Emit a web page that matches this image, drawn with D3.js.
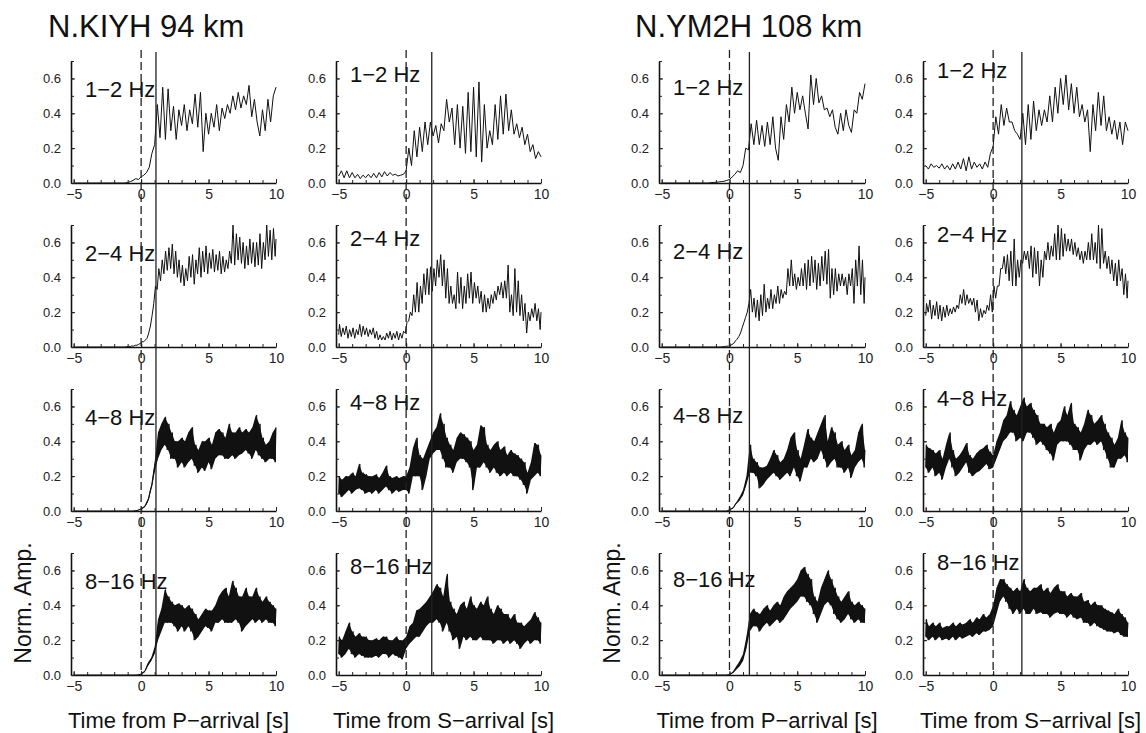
<!DOCTYPE html>
<html><head><meta charset="utf-8">
<script src="https://cdn.jsdelivr.net/npm/d3@7"></script>
<style>
body{margin:0;background:#fff;}
svg{display:block;font-family:"Liberation Sans",Arial,Helvetica,sans-serif;}
</style></head>
<body><svg id="chart" width="1146" height="733"></svg>
<script>
// ---------------- DATA ----------------
const stations = ["N.KIYH 94 km", "N.YM2H 108 km"];
const phaseTitles = ["Time from P\u2212arrival [s]", "Time from S\u2212arrival [s]"];
const bands = ["1\u22122 Hz", "2\u22124 Hz", "4\u22128 Hz", "8\u221216 Hz"];
const xTickLabels = [-5, 0, 5, 10];
const yTickLabels = [0, 0.2, 0.4, 0.6];
// solid marker time in each column (dashed marker at 0)
const markerTimes = [1.1, 1.9, 1.47, 2.13];

// 1-2 Hz traces, samples every 0.2 s from -5 to 10 s
const kiyhP_1_2 = [0,0,0,0,0,0,0,0,0,0,0,0,0,0,0,0,0,0,0,0,
 0.003,0.008,0.015,0.025,0.02,0.035,0.045,0.06,0.09,0.17,0.22,0.45,0.26,0.55,0.25,0.54,0.3,0.44,0.25,0.42,0.33,
 0.45,0.3,0.42,0.34,0.51,0.32,0.52,0.18,0.4,0.28,0.4,0.32,0.45,0.3,0.43,0.37,0.45,0.4,0.5,0.42,
 0.52,0.43,0.5,0.45,0.56,0.38,0.48,0.35,0.27,0.42,0.3,0.48,0.35,0.5,0.55];
const kiyhS_1_2 = [0.04,0.07,0.03,0.07,0.03,0.06,0.03,0.05,0.025,0.045,0.03,0.05,0.03,0.055,0.03,0.06,0.035,0.065,0.04,0.06,0.045,0.05,0.04,0.045,0.05,
 0.07,0.2,0.1,0.3,0.15,0.32,0.18,0.35,0.22,0.35,0.27,0.33,0.23,0.34,0.3,0.48,0.35,0.43,0.22,0.45,0.2,
 0.44,0.17,0.52,0.18,0.55,0.15,0.58,0.12,0.45,0.2,0.3,0.22,0.45,0.25,0.5,0.28,0.51,0.3,0.42,0.28,
 0.34,0.26,0.32,0.22,0.28,0.18,0.22,0.14,0.18,0.15];
const ym2hP_1_2 = [0,0,0,0,0,0,0,0,0,0,0,0,0,0,0,0,0,0,
 0.002,0.003,0.004,0.006,0.008,0.01,0.015,0.02,0.035,0.05,0.07,0.06,0.1,0.2,0.19,0.34,0.22,0.36,0.22,0.33,0.21,0.35,0.22,0.38,0.2,0.13,0.38,0.25,
 0.45,0.35,0.55,0.4,0.52,0.42,0.5,0.4,0.31,0.62,0.45,0.6,0.46,0.5,0.42,0.43,0.38,0.42,0.32,0.28,
 0.4,0.3,0.42,0.33,0.29,0.42,0.4,0.52,0.48,0.57];
const ym2hS_1_2 = [0.1,0.08,0.11,0.09,0.1,0.085,0.11,0.08,0.1,0.075,0.11,0.08,0.12,0.08,0.14,0.07,0.15,0.08,0.12,0.09,0.11,0.08,0.12,0.09,0.17,
 0.21,0.38,0.28,0.45,0.33,0.43,0.35,0.35,0.3,0.28,0.25,0.4,0.22,0.45,0.25,0.47,0.3,0.42,0.33,0.42,0.35,
 0.5,0.35,0.55,0.4,0.6,0.45,0.62,0.42,0.57,0.4,0.55,0.38,0.45,0.35,0.42,0.18,0.45,0.3,0.52,0.33,
 0.5,0.3,0.38,0.28,0.36,0.25,0.35,0.22,0.35,0.3];

// 2-16 Hz traces: min / max of each 0.25 s bin from -5 to 10 s
const kiyhP_2_4_lo = [0,0,0,0,0,0,0,0,0,0,0,0,0,0,0,0,0.002,0.003,
 0.005,0.01,0.02,0.03,0.05,0.12,0.25,0.33,0.38,0.42,0.44,0.45,0.42,0.4,0.37,0.35,0.38,0.4,0.36,0.42,0.4,0.43,0.42,0.45,0.43,0.44,0.42,0.43,0.45,0.48,0.47,0.5,0.48,0.45,0.47,0.48,0.46,0.47,0.45,0.5,0.52,0.5,0.52];
const kiyhP_2_4_hi = [0,0,0,0,0,0,0,0,0,0,0,0,0,0,0,0,0.003,0.006,
 0.01,0.015,0.03,0.04,0.08,0.18,0.35,0.45,0.5,0.55,0.57,0.59,0.55,0.5,0.47,0.45,0.52,0.53,0.5,0.57,0.55,0.58,0.54,0.56,0.53,0.55,0.52,0.5,0.55,0.7,0.65,0.63,0.6,0.58,0.62,0.6,0.6,0.65,0.6,0.7,0.67,0.68,0.62];
const kiyhS_2_4_lo = [0.07,0.06,0.07,0.05,0.06,0.05,0.07,0.06,0.07,0.06,0.07,0.05,0.04,0.04,0.04,0.05,0.04,0.05,0.04,0.05,
 0.08,0.15,0.18,0.2,0.2,0.25,0.3,0.3,0.32,0.35,0.4,0.35,0.28,0.25,0.25,0.22,0.25,0.22,0.25,0.28,0.25,0.28,0.25,0.2,0.2,0.22,0.25,0.27,0.3,0.28,0.28,0.2,0.18,0.2,0.18,0.15,0.08,0.15,0.17,0.15,0.1];
const kiyhS_2_4_hi = [0.13,0.11,0.12,0.1,0.11,0.1,0.13,0.12,0.11,0.1,0.11,0.09,0.07,0.06,0.08,0.09,0.08,0.09,0.08,0.09,
 0.14,0.2,0.3,0.37,0.35,0.42,0.45,0.46,0.45,0.5,0.53,0.5,0.45,0.35,0.3,0.43,0.4,0.35,0.42,0.43,0.37,0.35,0.32,0.3,0.28,0.3,0.32,0.35,0.37,0.38,0.47,0.3,0.45,0.38,0.3,0.25,0.2,0.22,0.25,0.22,0.2];
const ym2hP_2_4_lo = [0,0,0,0,0,0,0,0,0,0,0,0,0,0,0,0,0,0,0.001,0.003,
 0.005,0.015,0.035,0.06,0.11,0.17,0.25,0.2,0.17,0.15,0.18,0.2,0.22,0.22,0.25,0.25,0.28,0.3,0.35,0.35,0.33,0.35,0.35,0.33,0.35,0.37,0.33,0.35,0.38,0.36,0.28,0.3,0.32,0.35,0.35,0.3,0.35,0.25,0.35,0.3,0.25];
const ym2hP_2_4_hi = [0,0,0,0,0,0,0,0,0,0,0,0,0,0,0,0,0,0,0.002,0.005,
 0.008,0.02,0.045,0.08,0.14,0.2,0.33,0.28,0.27,0.3,0.36,0.28,0.33,0.3,0.35,0.33,0.32,0.45,0.5,0.42,0.4,0.45,0.48,0.5,0.52,0.5,0.48,0.52,0.55,0.56,0.45,0.45,0.42,0.42,0.4,0.42,0.45,0.5,0.58,0.5,0.4];
const ym2hS_2_4_lo = [0.18,0.2,0.16,0.18,0.16,0.15,0.17,0.18,0.19,0.2,0.22,0.25,0.24,0.25,0.24,0.2,0.15,0.17,0.19,0.21,
 0.2,0.28,0.35,0.45,0.42,0.38,0.35,0.35,0.4,0.48,0.5,0.45,0.4,0.42,0.35,0.4,0.5,0.5,0.52,0.5,0.5,0.52,0.55,0.55,0.53,0.52,0.5,0.48,0.5,0.5,0.5,0.48,0.45,0.48,0.45,0.42,0.38,0.35,0.38,0.3,0.28];
const ym2hS_2_4_hi = [0.25,0.27,0.24,0.26,0.24,0.23,0.24,0.22,0.23,0.24,0.3,0.33,0.3,0.28,0.28,0.27,0.22,0.21,0.24,0.3,
 0.35,0.35,0.45,0.52,0.53,0.55,0.62,0.5,0.5,0.55,0.55,0.58,0.57,0.55,0.5,0.55,0.6,0.58,0.65,0.7,0.68,0.65,0.62,0.62,0.6,0.57,0.55,0.55,0.6,0.65,0.6,0.7,0.68,0.55,0.52,0.5,0.48,0.5,0.45,0.42,0.38];

const kiyhP_4_8_lo = [0,0,0,0,0,0,0,0,0,0,0,0,0,0,0,0,0,0,0.001,0.003,
 0.01,0.02,0.05,0.12,0.22,0.3,0.35,0.38,0.35,0.3,0.3,0.25,0.28,0.25,0.28,0.3,0.26,0.22,0.25,0.23,0.28,0.24,0.3,0.32,0.32,0.3,0.3,0.32,0.3,0.32,0.33,0.35,0.33,0.3,0.35,0.32,0.3,0.28,0.3,0.3,0.28];
const kiyhP_4_8_hi = [0,0,0,0,0,0,0,0,0,0,0,0,0,0,0,0,0,0,0.002,0.006,
 0.015,0.03,0.07,0.15,0.28,0.45,0.5,0.54,0.5,0.45,0.4,0.4,0.42,0.4,0.45,0.48,0.38,0.35,0.4,0.4,0.42,0.38,0.45,0.47,0.45,0.42,0.5,0.45,0.45,0.48,0.45,0.47,0.45,0.48,0.55,0.5,0.42,0.38,0.4,0.45,0.48];
const kiyhS_4_8_lo = [0.1,0.08,0.1,0.12,0.1,0.12,0.13,0.12,0.1,0.11,0.1,0.12,0.1,0.12,0.14,0.12,0.1,0.12,0.11,0.12,
 0.12,0.1,0.2,0.2,0.2,0.12,0.2,0.3,0.33,0.35,0.35,0.3,0.25,0.25,0.22,0.28,0.3,0.3,0.28,0.25,0.12,0.25,0.25,0.28,0.25,0.22,0.25,0.22,0.2,0.22,0.2,0.22,0.2,0.2,0.18,0.15,0.1,0.18,0.2,0.22,0.2];
const kiyhS_4_8_hi = [0.2,0.18,0.2,0.2,0.22,0.2,0.27,0.22,0.21,0.2,0.2,0.21,0.19,0.22,0.26,0.2,0.19,0.2,0.19,0.2,
 0.2,0.25,0.36,0.42,0.32,0.3,0.35,0.4,0.45,0.48,0.56,0.5,0.42,0.38,0.35,0.42,0.45,0.44,0.42,0.4,0.35,0.38,0.49,0.48,0.38,0.35,0.38,0.4,0.35,0.37,0.32,0.35,0.33,0.32,0.3,0.28,0.22,0.28,0.39,0.38,0.32];
const ym2hP_4_8_lo = [0,0,0,0,0,0,0,0,0,0,0,0,0,0,0,0,0,0,0,0,
 0.005,0.015,0.04,0.06,0.09,0.15,0.22,0.22,0.2,0.13,0.15,0.18,0.2,0.22,0.2,0.18,0.2,0.22,0.2,0.25,0.2,0.17,0.25,0.25,0.3,0.28,0.3,0.35,0.3,0.25,0.28,0.3,0.25,0.25,0.22,0.25,0.19,0.25,0.28,0.3,0.25];
const ym2hP_4_8_hi = [0,0,0,0,0,0,0,0,0,0,0,0,0,0,0,0,0,0,0,0,
 0.008,0.02,0.05,0.08,0.12,0.2,0.38,0.3,0.28,0.25,0.25,0.26,0.3,0.35,0.32,0.28,0.3,0.35,0.42,0.45,0.35,0.3,0.38,0.47,0.42,0.4,0.45,0.5,0.55,0.4,0.48,0.45,0.38,0.4,0.35,0.38,0.32,0.35,0.45,0.5,0.35];
const ym2hS_4_8_lo = [0.25,0.22,0.25,0.2,0.22,0.18,0.25,0.3,0.25,0.2,0.22,0.25,0.28,0.22,0.2,0.22,0.23,0.25,0.27,0.24,
 0.25,0.3,0.35,0.4,0.42,0.45,0.45,0.4,0.42,0.4,0.45,0.45,0.42,0.38,0.4,0.38,0.35,0.33,0.29,0.38,0.4,0.4,0.4,0.38,0.35,0.35,0.29,0.35,0.38,0.38,0.4,0.38,0.4,0.35,0.3,0.25,0.25,0.3,0.3,0.32,0.28];
const ym2hS_4_8_hi = [0.38,0.36,0.35,0.33,0.35,0.3,0.38,0.45,0.35,0.3,0.32,0.35,0.39,0.32,0.3,0.33,0.35,0.36,0.38,0.34,
 0.32,0.4,0.45,0.52,0.55,0.63,0.58,0.55,0.6,0.65,0.6,0.62,0.58,0.55,0.5,0.5,0.48,0.5,0.45,0.5,0.52,0.6,0.55,0.62,0.5,0.48,0.45,0.5,0.58,0.55,0.5,0.52,0.55,0.5,0.45,0.42,0.38,0.42,0.52,0.45,0.42];

const kiyhP_8_16_lo = [0,0,0,0,0,0,0,0,0,0,0,0,0,0,0,0,0,0,0,0,
 0.003,0.015,0.05,0.08,0.12,0.2,0.25,0.3,0.3,0.3,0.28,0.25,0.28,0.25,0.28,0.25,0.2,0.22,0.25,0.28,0.27,0.25,0.3,0.3,0.32,0.3,0.3,0.3,0.32,0.3,0.25,0.28,0.3,0.32,0.3,0.32,0.3,0.32,0.3,0.3,0.28];
const kiyhP_8_16_hi = [0,0,0,0,0,0,0,0,0,0,0,0,0,0,0,0,0,0,0,0.001,
 0.008,0.025,0.07,0.1,0.16,0.32,0.38,0.49,0.45,0.42,0.4,0.41,0.4,0.38,0.4,0.38,0.35,0.32,0.35,0.38,0.37,0.37,0.4,0.45,0.48,0.5,0.45,0.54,0.5,0.45,0.45,0.5,0.45,0.45,0.5,0.45,0.42,0.45,0.42,0.4,0.38];
const kiyhS_8_16_lo = [0.12,0.1,0.12,0.15,0.12,0.1,0.12,0.11,0.1,0.1,0.1,0.11,0.1,0.12,0.12,0.1,0.12,0.11,0.1,0.09,
 0.15,0.18,0.2,0.22,0.22,0.25,0.28,0.3,0.3,0.32,0.3,0.25,0.3,0.25,0.2,0.22,0.15,0.22,0.2,0.22,0.2,0.2,0.22,0.2,0.2,0.2,0.18,0.2,0.2,0.18,0.2,0.18,0.2,0.18,0.15,0.18,0.2,0.18,0.2,0.2,0.18];
const kiyhS_8_16_hi = [0.22,0.2,0.25,0.3,0.25,0.22,0.24,0.22,0.22,0.2,0.2,0.21,0.2,0.22,0.22,0.2,0.2,0.22,0.2,0.2,
 0.22,0.28,0.3,0.37,0.38,0.4,0.42,0.45,0.48,0.52,0.5,0.45,0.58,0.42,0.38,0.35,0.4,0.42,0.38,0.45,0.4,0.38,0.42,0.4,0.45,0.38,0.35,0.4,0.38,0.35,0.35,0.32,0.35,0.3,0.3,0.28,0.3,0.32,0.36,0.33,0.3];
const ym2hP_8_16_lo = [0,0,0,0,0,0,0,0,0,0,0,0,0,0,0,0,0,0,0,0,
 0.002,0.01,0.03,0.05,0.08,0.15,0.25,0.28,0.28,0.25,0.28,0.3,0.28,0.3,0.32,0.3,0.32,0.35,0.38,0.4,0.42,0.45,0.45,0.42,0.4,0.35,0.3,0.35,0.4,0.42,0.4,0.35,0.32,0.3,0.32,0.35,0.32,0.3,0.32,0.3,0.3];
const ym2hP_8_16_hi = [0,0,0,0,0,0,0,0,0,0,0,0,0,0,0,0,0,0,0,0,
 0.005,0.02,0.05,0.08,0.12,0.22,0.35,0.38,0.36,0.35,0.38,0.4,0.37,0.4,0.42,0.4,0.45,0.48,0.5,0.52,0.55,0.6,0.62,0.58,0.55,0.45,0.42,0.5,0.55,0.6,0.55,0.5,0.45,0.42,0.45,0.48,0.42,0.4,0.42,0.4,0.38];
const ym2hS_8_16_lo = [0.22,0.2,0.22,0.2,0.22,0.2,0.21,0.2,0.22,0.2,0.22,0.21,0.22,0.23,0.22,0.24,0.23,0.25,0.25,0.26,
 0.28,0.35,0.42,0.45,0.42,0.38,0.35,0.38,0.35,0.38,0.35,0.35,0.38,0.35,0.36,0.35,0.35,0.33,0.35,0.36,0.35,0.35,0.33,0.35,0.33,0.32,0.33,0.3,0.3,0.28,0.3,0.28,0.27,0.26,0.25,0.25,0.24,0.25,0.23,0.22,0.22];
const ym2hS_8_16_hi = [0.32,0.28,0.3,0.28,0.3,0.27,0.28,0.28,0.3,0.28,0.3,0.29,0.3,0.32,0.3,0.33,0.32,0.35,0.33,0.35,
 0.4,0.5,0.55,0.55,0.52,0.5,0.48,0.5,0.48,0.55,0.5,0.48,0.5,0.5,0.52,0.48,0.5,0.47,0.5,0.52,0.48,0.48,0.45,0.47,0.45,0.45,0.47,0.42,0.43,0.4,0.42,0.4,0.4,0.38,0.37,0.36,0.35,0.38,0.35,0.33,0.3];

// panel grid: rows = bands, columns = [KIYH P, KIYH S, YM2H P, YM2H S]
const panels = [
  [ {v:kiyhP_1_2}, {v:kiyhS_1_2}, {v:ym2hP_1_2}, {v:ym2hS_1_2} ],
  [ {lo:kiyhP_2_4_lo,hi:kiyhP_2_4_hi}, {lo:kiyhS_2_4_lo,hi:kiyhS_2_4_hi}, {lo:ym2hP_2_4_lo,hi:ym2hP_2_4_hi}, {lo:ym2hS_2_4_lo,hi:ym2hS_2_4_hi} ],
  [ {lo:kiyhP_4_8_lo,hi:kiyhP_4_8_hi,fill:true}, {lo:kiyhS_4_8_lo,hi:kiyhS_4_8_hi,fill:true}, {lo:ym2hP_4_8_lo,hi:ym2hP_4_8_hi,fill:true}, {lo:ym2hS_4_8_lo,hi:ym2hS_4_8_hi,fill:true} ],
  [ {lo:kiyhP_8_16_lo,hi:kiyhP_8_16_hi,fill:true}, {lo:kiyhS_8_16_lo,hi:kiyhS_8_16_hi,fill:true}, {lo:ym2hP_8_16_lo,hi:ym2hP_8_16_hi,fill:true}, {lo:ym2hS_8_16_lo,hi:ym2hS_8_16_hi,fill:true} ]
];

// ---------------- LAYOUT ----------------
const svg = d3.select("#chart");
const colGeom = [
  {x0:71, x1:276, labelDy:86},
  {x0:336, x1:541, labelDy:101},
  {x0:659, x1:865, labelDy:88},
  {x0:923, x1:1128, labelDy:105}
];
const row0 = 183, rowStep = 164, panelH = 122;
const fmtX = d3.format("");

colGeom.forEach((cg, c) => {
  const x = d3.scaleLinear().domain([-5.2, 10]).range([cg.x0, cg.x1]);
  panels.forEach((row, r) => {
    const zeroY = row0 + r * rowStep;
    const y = d3.scaleLinear().domain([0, 0.7]).range([zeroY, zeroY - panelH]);
    const g = svg.append("g");
    const d = row[c];
    if (d.v) {
      const step = 15 / (d.v.length - 1);
      g.append("path").datum(d.v)
        .attr("fill", "none").attr("stroke", "#111").attr("stroke-width", 1)
        .attr("d", d3.line().x((v, i) => x(-5 + i * step)).y(v => y(v)));
    } else {
      const n = d.lo.length, step = 15 / (n - 1);
      const pts = [];
      d.lo.forEach((lo, i) => {
        const t = -5 + i * step;
        pts.push([Math.max(-5, t - step / 4), lo]);
        pts.push([Math.min(10, t + step / 4), d.hi[i]]);
      });
      if (d.fill) {
        g.append("path").datum(d.lo)
          .attr("fill", "#111").attr("stroke", "none")
          .attr("d", d3.area().x((v, i) => x(-5 + i * step)).y0(v => y(v)).y1((v, i) => y(d.hi[i])));
      }
      g.append("path").datum(pts)
        .attr("fill", "none").attr("stroke", "#111").attr("stroke-width", 1)
        .attr("d", d3.line().x(p => x(p[0])).y(p => y(p[1])));
    }
    // axes
    const ax = g.append("g").attr("transform", `translate(0,${zeroY})`)
      .call(d3.axisBottom(x).tickValues(xTickLabels).tickFormat(fmtX).tickSizeInner(-4).tickSizeOuter(0).tickPadding(6));
    g.append("g").attr("transform", `translate(0,${zeroY})`)
      .call(d3.axisBottom(x).tickValues(d3.range(-5, 11)).tickFormat("").tickSizeInner(-3).tickSizeOuter(0))
      .select(".domain").remove();
    const ay = g.append("g").attr("transform", `translate(${cg.x0},0)`)
      .call(d3.axisLeft(y).tickValues(yTickLabels).tickFormat(d3.format(".1f")).tickSizeInner(-4).tickSizeOuter(0).tickPadding(10));
    g.append("g").attr("transform", `translate(${cg.x0},0)`)
      .call(d3.axisLeft(y).tickValues(d3.range(0, 0.71, 0.1)).tickFormat("").tickSizeInner(-3).tickSizeOuter(0))
      .select(".domain").remove();
    [ax, ay].forEach(a => {
      a.select(".domain").attr("stroke", "#111").attr("stroke-width", 1.6);
      a.selectAll("text").attr("fill", "#222")
        .attr("font-family", "'Liberation Sans',Arial,sans-serif");
    });
    ax.selectAll("text").attr("font-size", 14);
    ay.selectAll("text").attr("font-size", 13);
    g.selectAll(".tick line").attr("stroke", "#222");
    // band label
    g.append("text").attr("x", cg.x0 + 14).attr("y", zeroY - cg.labelDy)
      .attr("font-size", 22).attr("fill", "#111").text(bands[r]);
  });
  // vertical marker lines
  const yTop = 50, yBot = row0 + 3 * rowStep;
  svg.append("line").attr("x1", x(0)).attr("x2", x(0)).attr("y1", yTop).attr("y2", yBot)
    .attr("stroke", "#222").attr("stroke-width", 1.3).attr("stroke-dasharray", "8,4");
  svg.append("line").attr("x1", x(markerTimes[c])).attr("x2", x(markerTimes[c])).attr("y1", yTop + 2).attr("y2", yBot)
    .attr("stroke", "#222").attr("stroke-width", 1.3);
  // x axis title
  svg.append("text").attr("x", (cg.x0 + cg.x1) / 2 + 5).attr("y", 728)
    .attr("text-anchor", "middle").attr("font-size", 22).attr("fill", "#111")
    .text(phaseTitles[c % 2]);
});

// station titles
[48, 635].forEach((tx, s) => {
  svg.append("text").attr("x", tx).attr("y", 37).attr("font-size", 31).attr("fill", "#111").text(stations[s]);
});
// y labels
[31, 620].forEach(lx => {
  svg.append("text").attr("transform", `translate(${lx},603) rotate(-90)`)
    .attr("text-anchor", "middle").attr("font-size", 23).attr("fill", "#111").text("Norm. Amp.");
});
</script></body></html>
